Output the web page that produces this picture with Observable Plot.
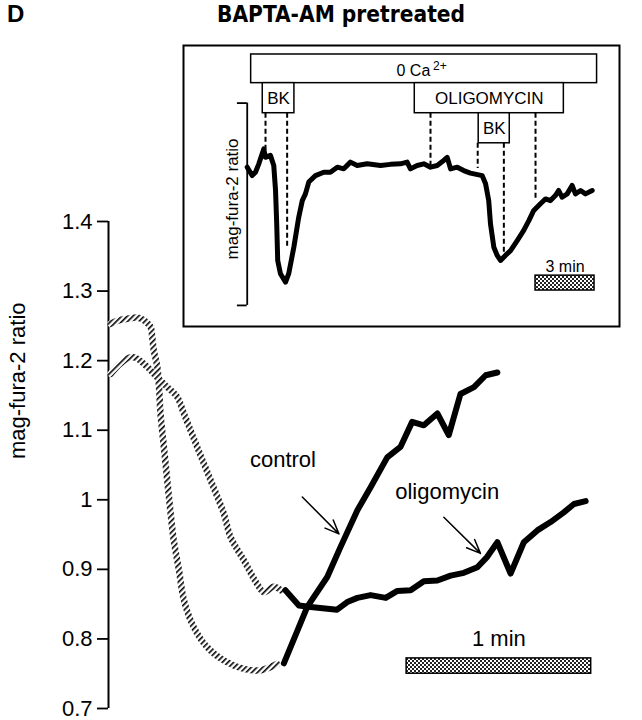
<!DOCTYPE html>
<html><head><meta charset="utf-8">
<script src="https://cdn.jsdelivr.net/npm/d3@7"></script>
<script src="https://cdn.jsdelivr.net/npm/@observablehq/plot@0.6"></script>
<style>
body{margin:0;background:#fff;}
#wrap{position:relative;width:642px;height:720px;overflow:hidden;background:#fff;}
#panel{position:absolute;left:7px;top:2px;font:bold 24px "Liberation Sans",Arial,sans-serif;line-height:24px;}
#title{position:absolute;left:41px;width:600px;top:3px;line-height:22px;text-align:center;font-family:"DejaVu Sans Condensed","DejaVu Sans",sans-serif;font-stretch:condensed;font-weight:bold;font-size:22.5px;}
#main{position:absolute;left:0;top:0;}
#inset{position:absolute;left:182px;top:44px;}
</style></head>
<body>
<div id="wrap">
  <div id="main"></div>
  <div id="inset"></div>
  <div id="panel">D</div>
  <div id="title">BAPTA-AM pretreated</div>
</div>
<script>
// ---------- main panel data (time in s, mag-fura-2 ratio) ----------
const yTicks = [0.7, 0.8, 0.9, 1.0, 1.1, 1.2, 1.3, 1.4];
const yLabel = "mag-fura-2 ratio";

const ctrlPreT = [0.7, 3.3, 6.1, 9.3, 11.5, 13.7, 14.2, 14.7, 15.8, 16.4, 16.9, 18.0, 19.1, 20.2, 21.2, 22.9, 24.5, 27.7, 32.1, 37.5, 44.0, 49.4, 54.8];
const ctrlPreV = [1.253, 1.258, 1.260, 1.262, 1.258, 1.248, 1.234, 1.215, 1.193, 1.164, 1.124, 1.076, 1.028, 0.980, 0.942, 0.899, 0.856, 0.817, 0.788, 0.769, 0.757, 0.755, 0.764];

const oligoPreT = [0.7, 3.9, 7.2, 9.3, 12.6, 15.8, 19.1, 22.3, 24.5, 28.8, 33.2, 37.5, 39.7, 44.0, 48.3, 50.5, 53.7, 56.0];
const oligoPreV = [1.181, 1.196, 1.205, 1.203, 1.191, 1.176, 1.162, 1.148, 1.124, 1.076, 1.028, 0.980, 0.946, 0.913, 0.879, 0.867, 0.875, 0.870];

const ctrlT = [57.0, 64.6, 71.1, 75.4, 80.9, 85.2, 90.6, 94.9, 98.7, 102.5, 106.9, 110.6, 114.4, 118.8, 122.6, 126.4];
const ctrlV = [0.765, 0.846, 0.889, 0.932, 0.985, 1.018, 1.061, 1.076, 1.112, 1.107, 1.124, 1.093, 1.152, 1.162, 1.179, 1.183];

const oligoT = [57.5, 61.9, 65.7, 74.3, 77.6, 80.9, 85.2, 90.1, 93.9, 98.2, 102.5, 106.9, 111.2, 115.5, 119.9, 123.1, 126.4, 130.7, 135.0, 139.4, 143.7, 148.0, 151.3, 155.1];
const oligoV = [0.870, 0.848, 0.846, 0.842, 0.853, 0.859, 0.863, 0.859, 0.869, 0.870, 0.883, 0.884, 0.891, 0.895, 0.903, 0.918, 0.939, 0.894, 0.939, 0.956, 0.968, 0.982, 0.994, 0.998];

const mainLabels = ["control", "oligomycin", "1 min"];
const mainLabelT = [56.7, 110.1, 126.9];
const mainLabelV = [1.057, 1.011, 0.800];

const arrowT1 = [63.0, 109.0], arrowV1 = [1.004, 0.975];
const arrowT2 = [74.9, 120.9], arrowV2 = [0.951, 0.923];

const scaleBarT = [96.9, 156.9];      // 1 min = 60 s
const scaleBarV = [0.750, 0.772];

// ---------- inset data (time in min, ratio in arbitrary units) ----------
const insetT = [0, 0.25, 0.42, 0.59, 0.76, 0.84, 0.93, 1.18, 1.35, 1.44, 1.50, 1.55, 1.69, 1.95, 2.11, 2.37, 2.62, 2.80, 2.96, 3.13, 3.47, 3.89, 4.23, 4.58, 4.91, 5.25, 5.59, 6.10, 6.78, 7.28, 7.79, 8.13, 8.30, 8.64, 8.98, 9.32, 9.66, 9.99, 10.17, 10.34, 10.68, 11.01, 11.35, 11.95, 12.12, 12.28, 12.37, 12.54, 12.71, 12.88, 13.13, 13.39, 13.73, 14.06, 14.32, 14.57, 14.91, 15.17, 15.42, 15.67, 15.84, 16.01, 16.27, 16.52, 16.69, 16.95, 17.20, 17.54];
const insetV = [56.7, 53.7, 54.9, 57.9, 61.5, 63.2, 60.2, 60.9, 57.3, 48.4, 36.5, 23.5, 18.8, 15.8, 18.8, 28.2, 38.9, 44.8, 47.2, 51.4, 53.7, 54.9, 54.9, 56.7, 56.1, 58.5, 57.3, 57.9, 57.3, 57.7, 57.9, 58.5, 56.1, 57.3, 57.9, 56.7, 57.3, 59.1, 60.2, 56.1, 56.7, 55.5, 54.6, 53.7, 50.8, 44.8, 36.5, 28.2, 25.3, 23.5, 25.3, 27.0, 30.6, 34.2, 37.7, 41.3, 43.7, 45.4, 44.8, 46.6, 48.4, 46.0, 47.2, 50.2, 47.2, 48.4, 47.2, 48.4];

const boxLabels = ["", "BK", "OLIGOMYCIN", "BK"];
const boxT1 = [0.20, 0.79, 8.52, 11.77];
const boxT2 = [17.79, 2.40, 16.10, 13.35];
const boxV1 = [86.6, 75.9, 75.9, 65.2];
const boxV2 = [96.8, 86.6, 86.6, 75.9];

const caLabels = ["0 Ca", "2+"];
const caT = [8.45, 9.8];
const caV = [91.1, 92.6];

const dashT = [0.93, 2.03, 9.32, 11.72, 13.05, 14.66];
const dashTop = [75.9, 75.9, 75.9, 65.2, 65.2, 75.9];
const dashBottom = [62.6, 28.2, 56.7, 56.2, 26.0, 44.8];

const bracketT = [-0.5, 0];
const bracketV = [7.5, 79.5];
const insetYLabelT = -0.76, insetYLabelV = 45.4;

const bar3T = [14.66, 17.66];   // 3 min
const bar3V = [12.8, 18.1];
const bar3Label = "3 min";

// ---------- build tables ----------
const zipTV = (T, V) => T.map((t, i) => ({t, v: V[i]}));
const ctrlPre = zipTV(ctrlPreT, ctrlPreV);
const oligoPre = zipTV(oligoPreT, oligoPreV);
const ctrl = zipTV(ctrlT, ctrlV);
const oligo = zipTV(oligoT, oligoV);
const labels = mainLabels.map((text, i) => ({text, t: mainLabelT[i], v: mainLabelV[i]}));
const arrows = arrowT1.map((t1, i) => ({t1, v1: arrowV1[i], t2: arrowT2[i], v2: arrowV2[i]}));
const insetTrace = zipTV(insetT, insetV);
const boxes = boxLabels.map((label, i) => ({label, t1: boxT1[i], t2: boxT2[i], v1: boxV1[i], v2: boxV2[i]}));
const dashes = dashT.map((t, i) => ({t, v1: dashTop[i], v2: dashBottom[i]}));

const sans = "'Liberation Sans', Arial, Helvetica, sans-serif";

const main = Plot.plot({
  width: 642, height: 720,
  marginLeft: 108, marginRight: 11, marginTop: 221, marginBottom: 12,
  x: {domain: [0, 170], axis: null},
  y: {domain: [0.7, 1.4]},
  style: {fontFamily: sans, background: "white", color: "black", overflow: "visible"},
  marks: [
    Plot.axisY(yTicks, {tickSize: 11, tickPadding: 5, fontSize: 22, strokeWidth: 1.8, label: null, tickFormat: d => String(d)}),
    Plot.ruleX([0], {y1: 0.7, y2: 1.4, strokeWidth: 2}),
    Plot.line(ctrlPre, {x: "t", y: "v", stroke: "url(#hatch)", strokeWidth: 6.5, curve: "catmull-rom"}),
    Plot.line(oligoPre, {x: "t", y: "v", stroke: "url(#hatch)", strokeWidth: 6.5, curve: "catmull-rom"}),
    Plot.line(ctrl, {x: "t", y: "v", stroke: "black", strokeWidth: 6, strokeLinejoin: "round"}),
    Plot.line(oligo, {x: "t", y: "v", stroke: "black", strokeWidth: 6, strokeLinejoin: "round"}),
    Plot.arrow(arrows, {x1: "t1", y1: "v1", x2: "t2", y2: "v2", stroke: "black", strokeWidth: 1.5, headLength: 15, headAngle: 45}),
    Plot.text(labels, {x: "t", y: "v", text: "text", fontSize: 22, fill: "black"}),
    Plot.rect([{}], {x1: scaleBarT[0], x2: scaleBarT[1], y1: scaleBarV[0], y2: scaleBarV[1], fill: "url(#stipple)", stroke: "black", strokeWidth: 1.5}),
    Plot.text([yLabel], {frameAnchor: "left", dx: -91, dy: -6, rotate: -90, fontSize: 22, fill: "black"})
  ]
});

d3.select(main).insert("defs", ":first-child").html(`
  <pattern id="hatch" patternUnits="userSpaceOnUse" width="4" height="4" patternTransform="rotate(45)">
    <rect width="4" height="4" fill="white"/>
    <rect x="0" y="0" width="1.6" height="4" fill="black"/>
  </pattern>
  <pattern id="stipple" patternUnits="userSpaceOnUse" width="4" height="4">
    <rect width="4" height="4" fill="white"/>
    <rect x="0" y="0" width="2" height="2" fill="#222"/>
    <rect x="2" y="2" width="2" height="2" fill="#222"/>
  </pattern>`);
document.getElementById("main").appendChild(main);

const inset = Plot.plot({
  width: 438, height: 283, margin: 1,
  x: {domain: [-3.24, 18.93], axis: null},
  y: {domain: [0, 100], axis: null},
  style: {fontFamily: sans, background: "white", color: "black", overflow: "visible"},
  marks: [
    Plot.frame({stroke: "black", strokeWidth: 2}),
    Plot.ruleX(dashes, {x: "t", y1: "v1", y2: "v2", stroke: "black", strokeWidth: 2, strokeDasharray: "5,3"}),
    Plot.rect(boxes, {x1: "t1", x2: "t2", y1: "v1", y2: "v2", fill: "white", stroke: "black", strokeWidth: 1.5}),
    Plot.text(boxes, {x: d => (d.t1 + d.t2) / 2, y: d => (d.v1 + d.v2) / 2, text: "label", fontSize: 17, fill: "black"}),
    Plot.text([caLabels[0]], {x: caT[0], y: caV[0], text: d => d, fontSize: 16, fill: "black"}),
    Plot.text([caLabels[1]], {x: caT[1], y: caV[1], text: d => d, fontSize: 12, fill: "black"}),
    Plot.ruleX([bracketT[1]], {y1: bracketV[0], y2: bracketV[1], stroke: "black", strokeWidth: 1.8}),
    Plot.ruleY(bracketV, {x1: bracketT[0], x2: bracketT[1], stroke: "black", strokeWidth: 1.8}),
    Plot.line(insetTrace, {x: "t", y: "v", stroke: "black", strokeWidth: 5, strokeLinejoin: "round"}),
    Plot.rect([{}], {x1: bar3T[0], x2: bar3T[1], y1: bar3V[0], y2: bar3V[1], fill: "url(#stipple)", stroke: "black", strokeWidth: 1.5}),
    Plot.text([bar3Label], {x: (bar3T[0] + bar3T[1]) / 2, y: 21.1, text: d => d, fontSize: 16, fill: "black"}),
    Plot.text([yLabel], {x: insetYLabelT, y: insetYLabelV, text: d => d, rotate: -90, fontSize: 17, fill: "black"})
  ]
});
document.getElementById("inset").appendChild(inset);
</script>
</body></html>
